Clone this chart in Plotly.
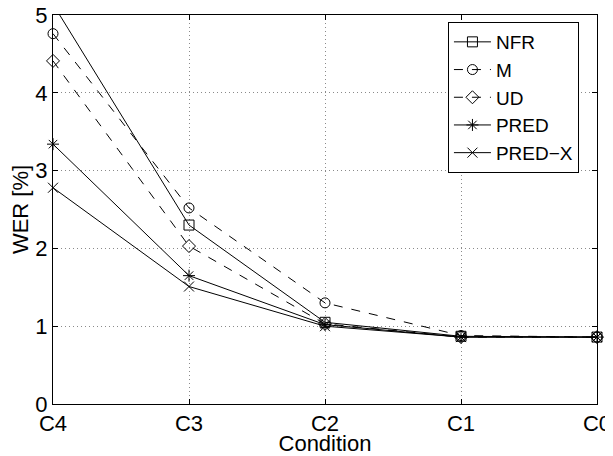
import plotly.graph_objects as go

conditions = ["C4", "C3", "C2", "C1", "C0"]
nfr = [5.14, 2.30, 1.05, 0.87, 0.86]
m = [4.76, 2.52, 1.30, 0.88, 0.86]
ud = [4.41, 2.03, 1.03, 0.86, 0.86]
pred = [3.34, 1.65, 1.02, 0.86, 0.86]
pred_x = [2.78, 1.51, 1.00, 0.86, 0.86]

xs = list(range(len(conditions)))

series = [
    ("NFR", nfr, "solid", "square-open"),
    ("M", m, "dash", "circle-open"),
    ("UD", ud, "dash", "diamond-open"),
    ("PRED", pred, "solid", "asterisk-open"),
    ("PRED\u2212X", pred_x, "solid", "x-thin-open"),
]

fig = go.Figure()
for name, vals, dash, sym in series:
    fig.add_trace(go.Scatter(
        x=xs, y=vals, name=name, mode="lines+markers",
        line=dict(color="black", width=1, dash=dash),
        marker=dict(symbol=sym, size=10, color="black",
                    line=dict(color="black", width=1)),
        cliponaxis=False,
    ))

font = "Liberation Sans, Arial, Helvetica, sans-serif"
# page body has an 8px default margin, so the figure is offset by 8px
fig.update_layout(
    template="none",
    width=605, height=448,
    margin=dict(l=45, r=16, t=7, b=52),
    paper_bgcolor="white", plot_bgcolor="white",
    font=dict(family=font, size=22, color="black"),
    showlegend=True,
    legend=dict(x=0.726, y=0.982, xanchor="left", yanchor="top",
                bordercolor="black", borderwidth=1, bgcolor="white",
                font=dict(size=19), tracegroupgap=0, itemwidth=37),
)
grid = dict(showgrid=True, gridcolor="#8a8a8a", griddash="1px,3px", gridwidth=1)
fig.update_xaxes(
    range=[0, 4], tickvals=xs, ticktext=conditions, automargin=False,
    showline=True, linecolor="black", linewidth=1, mirror="ticks",
    ticks="inside", ticklen=5, tickcolor="black", ticklabeloverflow="allow",
    zeroline=False, **grid,
    title=dict(text="Condition", standoff=1, font=dict(size=22)),
)
fig.update_yaxes(
    range=[0, 5], dtick=1, automargin=False,
    showline=True, linecolor="black", linewidth=1, mirror="ticks",
    ticks="inside", ticklen=5, tickcolor="black", ticklabeloverflow="allow",
    zeroline=False, **grid,
    title=dict(text="WER [%]", standoff=5, font=dict(size=22)),
)
fig.write_html("out.html")
